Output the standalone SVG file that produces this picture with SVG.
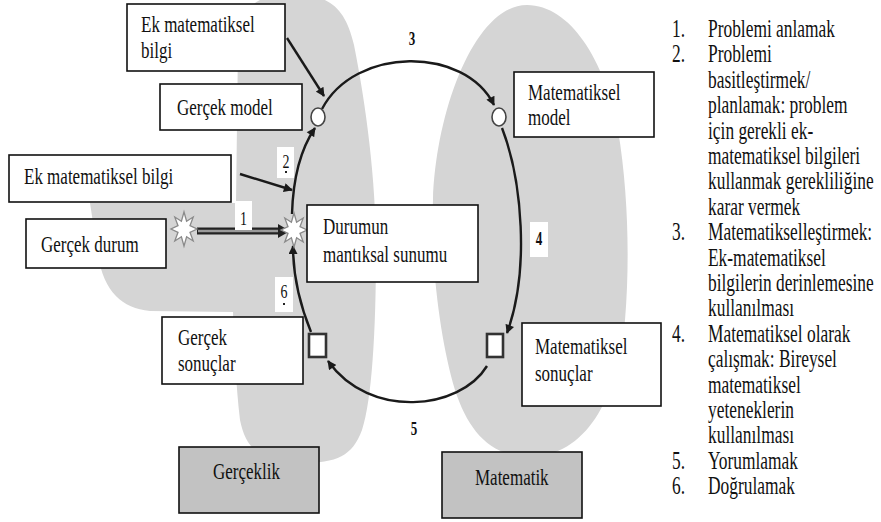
<svg xmlns="http://www.w3.org/2000/svg" width="881" height="522" viewBox="0 0 881 522">
<style>
.t{font-family:"Liberation Serif","Times New Roman",serif;font-size:17px;fill:#111}
.l{font-family:"Liberation Serif","Times New Roman",serif;font-size:17.4px;fill:#111}
.n{font-family:"Liberation Serif","Times New Roman",serif;font-size:14px;fill:#111;text-anchor:middle}
.nb{font-family:"Liberation Serif","Times New Roman",serif;font-size:13px;font-weight:bold;fill:#111;text-anchor:middle}
.box{fill:#fff;stroke:#111;stroke-width:1.6}
.gbox{fill:#c2c2c2;stroke:#111;stroke-width:1.6}
.blob{fill:#d5d5d5}
.c{fill:none;stroke:#1a1a1a;stroke-width:2.4}
.lb{fill:#fff}
.circ{fill:#fff;stroke:#444;stroke-width:1.6}
.sq{fill:#fff;stroke:#333;stroke-width:2.6}
.star{fill:#fff;stroke:#8a8a8a;stroke-width:1.3}
</style>
<defs>
<marker id="ah" viewBox="0 0 10 10" refX="9" refY="5" markerWidth="10" markerHeight="9" markerUnits="userSpaceOnUse" orient="auto">
<path d="M0,0 L10,5 L0,10 z" fill="#1a1a1a"/>
</marker>
<polygon id="starshape" points="0,-17 2.6,-7.8 9.2,-12 6,-3.3 13,0 6,3.3 9.2,12 2.6,7.8 0,17 -2.6,7.8 -9.2,12 -6,3.3 -13,0 -6,-3.3 -9.2,-12 -2.6,-7.8"/>
</defs>
<rect width="881" height="522" fill="#fff"/>
<g id="backgrounds">
<path class="blob" d="M238 45 C238 12 253 -6 290 -6 C328 -6 345 6 354 45 C366 105 376 180 376 250 C376 330 372 400 362 430 C352 456 338 463 300 463 C262 463 246 450 240 420 C236 385 234 345 233 312 L150 311 C122 308 104 292 98 255 L90 203 L236 203 Z"/>
<path class="blob" d="M527 5 C570 5 605 60 618 130 C628 190 630 260 625 320 C618 400 585 456 530 457 C490 457 468 430 455 390 C440 340 430 260 433 200 C436 110 475 5 527 5 Z"/>
</g>
<g id="connectors">
<path class="c" d="M287 38 L324 96" marker-end="url(#ah)"/>
<path class="c" d="M240 174 L292 190" marker-end="url(#ah)"/>
<path class="c" d="M322 109 C355 46 465 46 494 105" marker-end="url(#ah)"/>
<path class="c" d="M502 128 C522 180 530 270 507 333" marker-end="url(#ah)"/>
<path class="c" d="M487 366 C460 410 370 420 328 361" marker-end="url(#ah)"/>
<path class="c" d="M311 332 C300 305 293 275 293 246" marker-end="url(#ah)"/>
<path class="c" d="M292 214 C293 180 300 150 315 128" marker-end="url(#ah)"/>
<path d="M197 231 H281" stroke="#222" stroke-width="7" fill="none"/>
<path d="M198 231 H279" stroke="#9a9a9a" stroke-width="2.4" fill="none"/>
<polygon points="278,224 290,231 278,238" fill="#222"/>
</g>
<g id="labels">
<rect class="lb" x="235" y="201" width="17" height="29"/>
<text class="n" transform="translate(243.5,225) scale(1,1.4)">1</text>
<rect class="lb" x="277" y="147" width="17" height="31"/>
<text class="n" transform="translate(286,168) scale(1,1.4)">2</text>
<rect x="285" y="171" width="2" height="2" fill="#222"/>
<rect class="lb" x="275" y="277" width="18" height="35"/>
<text class="n" transform="translate(284,298) scale(1,1.4)">6</text>
<rect x="283" y="303" width="2" height="2" fill="#222"/>
<rect class="lb" x="402" y="25" width="19" height="27"/>
<text class="nb" transform="translate(412,45) scale(1,1.4)">3</text>
<rect class="lb" x="530" y="222" width="18" height="35"/>
<text class="nb" transform="translate(539,245) scale(1,1.4)">4</text>
<rect class="lb" x="404" y="414" width="19" height="28"/>
<text class="nb" transform="translate(414,435) scale(1,1.4)">5</text>
</g>
<g id="stars">
<use href="#starshape" class="star" transform="translate(184,229)"/>
<use href="#starshape" class="star" transform="translate(294,230)"/>
</g>
<g id="markers">
<ellipse class="circ" cx="318" cy="117" rx="7" ry="9"/>
<ellipse class="circ" cx="499" cy="117" rx="7" ry="9"/>
<rect class="sq" x="309" y="334" width="17" height="23"/>
<rect class="sq" x="487" y="334" width="16" height="23"/>
</g>
<g id="node-ek-bilgi-top">
<rect class="box" x="127" y="4" width="158" height="67"/>
<text class="t" transform="translate(141,32) scale(1,1.35)">Ek matematiksel</text>
<text class="t" transform="translate(141,58) scale(1,1.35)">bilgi</text>
</g>
<g id="node-gercek-model">
<rect class="box" x="160" y="84" width="142" height="46"/>
<text class="t" transform="translate(177,115) scale(1,1.4)">Gerçek model</text>
</g>
<g id="node-ek-bilgi">
<rect class="box" x="9" y="155" width="222" height="47"/>
<text class="t" transform="translate(24,184) scale(1,1.4)">Ek matematiksel bilgi</text>
</g>
<g id="node-gercek-durum">
<rect class="box" x="26" y="219" width="140" height="49"/>
<text class="t" transform="translate(41,252) scale(1,1.4)">Gerçek durum</text>
</g>
<g id="node-durumun">
<rect class="box" x="307" y="205" width="171" height="77"/>
<text class="t" transform="translate(323,234) scale(1,1.4)">Durumun</text>
<text class="t" transform="translate(323,262) scale(1,1.4)">mantıksal sunumu</text>
</g>
<g id="node-mat-model">
<rect class="box" x="514" y="72" width="140" height="65"/>
<text class="t" transform="translate(528,100) scale(1,1.4)">Matematiksel</text>
<text class="t" transform="translate(528,125) scale(1,1.4)">model</text>
</g>
<g id="node-gercek-sonuclar">
<rect class="box" x="162" y="317" width="141" height="67"/>
<text class="t" transform="translate(178,345) scale(1,1.4)">Gerçek</text>
<text class="t" transform="translate(178,371) scale(1,1.4)">sonuçlar</text>
</g>
<g id="node-mat-sonuclar">
<rect class="box" x="522" y="323" width="139" height="83"/>
<text class="t" transform="translate(535,354) scale(1,1.4)">Matematiksel</text>
<text class="t" transform="translate(535,381) scale(1,1.4)">sonuçlar</text>
</g>
<g id="node-gerceklik">
<rect class="gbox" x="179" y="447" width="140" height="66"/>
<text class="t" transform="translate(213,479) scale(1,1.4)">Gerçeklik</text>
</g>
<g id="node-matematik">
<rect class="gbox" x="442" y="452" width="140" height="66"/>
<text class="t" transform="translate(475,485) scale(1,1.4)">Matematik</text>
</g>
<g id="legend">
<text class="l" transform="translate(672,37) scale(1,1.4)">1.</text>
<text class="l" transform="translate(708,37) scale(1,1.4)">Problemi anlamak</text>
<text class="l" transform="translate(672,62.4) scale(1,1.4)">2.</text>
<text class="l" transform="translate(708,62.4) scale(1,1.4)">Problemi</text>
<text class="l" transform="translate(708,87.8) scale(1,1.4)">basitleştirmek/</text>
<text class="l" transform="translate(708,113.2) scale(1,1.4)">planlamak: problem</text>
<text class="l" transform="translate(708,138.6) scale(1,1.4)">için gerekli ek-</text>
<text class="l" transform="translate(708,164) scale(1,1.4)">matematiksel bilgileri</text>
<text class="l" transform="translate(708,189.4) scale(1,1.4)">kullanmak gerekliliğine</text>
<text class="l" transform="translate(708,214.8) scale(1,1.4)">karar vermek</text>
<text class="l" transform="translate(672,240.2) scale(1,1.4)">3.</text>
<text class="l" transform="translate(708,240.2) scale(1,1.4)">Matematikselleştirmek:</text>
<text class="l" transform="translate(708,265.6) scale(1,1.4)">Ek-matematiksel</text>
<text class="l" transform="translate(708,291) scale(1,1.4)">bilgilerin derinlemesine</text>
<text class="l" transform="translate(708,316.4) scale(1,1.4)">kullanılması</text>
<text class="l" transform="translate(672,341.8) scale(1,1.4)">4.</text>
<text class="l" transform="translate(708,341.8) scale(1,1.4)">Matematiksel olarak</text>
<text class="l" transform="translate(708,367.2) scale(1,1.4)">çalışmak: Bireysel</text>
<text class="l" transform="translate(708,392.6) scale(1,1.4)">matematiksel</text>
<text class="l" transform="translate(708,418) scale(1,1.4)">yeteneklerin</text>
<text class="l" transform="translate(708,443.4) scale(1,1.4)">kullanılması</text>
<text class="l" transform="translate(672,468.8) scale(1,1.4)">5.</text>
<text class="l" transform="translate(708,468.8) scale(1,1.4)">Yorumlamak</text>
<text class="l" transform="translate(672,494.2) scale(1,1.4)">6.</text>
<text class="l" transform="translate(708,494.2) scale(1,1.4)">Doğrulamak</text>
</g>
</svg>
